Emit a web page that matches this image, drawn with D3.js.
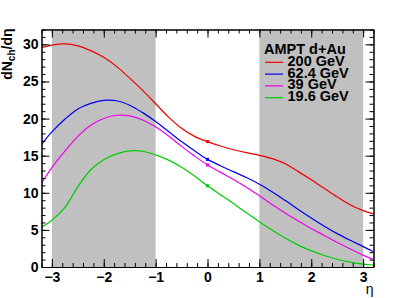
<!DOCTYPE html>
<html>
<head>
<meta charset="utf-8">
<script src="https://cdn.jsdelivr.net/npm/d3@7"></script>
<style>
  body { margin: 0; background: #fff; }
  text { font-family: "Liberation Sans", Arial, sans-serif; }
</style>
</head>
<body>
<div id="chart"></div>
<script>
// eta grid and dN/deta for each energy
const eta = [-3.2, -3, -2.75, -2.5, -2.25, -2, -1.75, -1.5, -1.25, -1, -0.75, -0.5, -0.25, 0,
             0.25, 0.5, 0.75, 1, 1.25, 1.5, 1.75, 2, 2.25, 2.5, 2.75, 3, 3.2];
const v200 = [29.55, 29.9, 30.05, 29.8, 29.15, 28.25, 27.0, 25.45, 23.8, 22.0, 20.2, 18.7, 17.6, 16.9,
              16.3, 15.8, 15.4, 15.05, 14.6, 13.9, 12.85, 11.75, 10.6, 9.45, 8.4, 7.6, 7.15];
const v62 = [16.5, 18.2, 19.9, 21.3, 22.05, 22.45, 22.4, 21.8, 20.8, 19.6, 18.25, 16.9, 15.65, 14.5,
             13.65, 12.85, 12.05, 11.15, 10.1, 8.95, 7.75, 6.6, 5.5, 4.5, 3.6, 2.75, 2.05];
const v39 = [11.3, 13.4, 15.6, 17.6, 19.1, 20.0, 20.45, 20.35, 19.8, 18.9, 17.65, 16.25, 14.95, 13.75,
             12.75, 11.8, 10.75, 9.6, 8.4, 7.25, 6.2, 5.2, 4.25, 3.3, 2.45, 1.6, 1.0];
const v19 = [5.35, 6.3, 8.0, 10.8, 13.1, 14.45, 15.25, 15.65, 15.6, 15.1, 14.4, 13.45, 12.25, 10.95,
             9.75, 8.55, 7.3, 6.1, 4.95, 3.9, 2.95, 2.2, 1.55, 1.05, 0.65, 0.4, 0.27];

const seriesNames = ["200 GeV", "62.4 GeV", "39 GeV", "19.6 GeV"];
const seriesValues = [v200, v62, v39, v19];
const seriesColors = ["#ee0000", "#0000ee", "#ee00ee", "#00cc00"];

const bands = [[-3, -1], [1, 3]];
const xTicks = [-3, -2, -1, 0, 1, 2, 3];
const yTicks = [0, 5, 10, 15, 20, 25, 30];

const W = 415, H = 298;
const margin = {top: 29.5, right: 41.5, bottom: 31, left: 41.5};
const width = W - margin.left - margin.right;
const height = H - margin.top - margin.bottom;

const svg = d3.select("#chart").append("svg")
  .attr("width", W).attr("height", H)
  .append("g")
  .attr("transform", `translate(${margin.left},${margin.top})`);

const x = d3.scaleLinear().domain([-3.2, 3.2]).range([0, width]);
const y = d3.scaleLinear().domain([0, 32]).range([height, 0]);

// shaded eta regions
svg.selectAll("rect.band")
  .data(bands)
  .enter().append("rect")
  .attr("class", "band")
  .attr("x", d => x(d[0]))
  .attr("width", d => x(d[1]) - x(d[0]))
  .attr("y", 0)
  .attr("height", height)
  .attr("fill", "#c0c0c0");

svg.append("clipPath").attr("id", "clip")
  .append("rect").attr("width", width).attr("height", height);

const line = d3.line()
  .x(d => x(d[0]))
  .y(d => y(d[1]))
  .curve(d3.curveCatmullRom.alpha(0.5));

seriesValues.forEach((vals, i) => {
  const pts = eta.map((e, j) => [e, vals[j]]);
  svg.append("path")
    .datum(pts)
    .attr("clip-path", "url(#clip)")
    .attr("fill", "none")
    .attr("stroke", seriesColors[i])
    .attr("stroke-width", 1.2)
    .attr("d", line);
  const k = eta.indexOf(0);
  svg.append("rect")
    .attr("x", x(0) - 1.5)
    .attr("y", y(vals[k]) - 1.5)
    .attr("width", 3).attr("height", 3)
    .attr("fill", seriesColors[i]);
});

// axes, ROOT style ticks pointing inward
const minorX = d3.range(-32, 33, 2).map(d => d / 10);
const minorY = d3.range(0, 33, 1);

function styleAxis(g) {
  g.selectAll("path.domain").attr("stroke", "#000").attr("stroke-width", 1);
  g.selectAll("line").attr("stroke", "#000");
  g.selectAll("text")
    .attr("fill", "#000")
    .style("font-size", "14px")
    .style("font-weight", "bold")
    .style("font-family", "'Liberation Sans', Arial, sans-serif");
}

svg.append("g")
  .attr("transform", `translate(0,${height})`)
  .call(d3.axisBottom(x).tickValues(minorX).tickSize(-4).tickSizeOuter(0).tickFormat(""))
  .call(styleAxis);
svg.append("g")
  .attr("transform", `translate(0,${height})`)
  .call(d3.axisBottom(x).tickValues(xTicks).tickSize(-8).tickSizeOuter(0).tickPadding(5)
    .tickFormat(d => d < 0 ? "\u2212" + Math.abs(d) : d))
  .call(styleAxis);

svg.append("g")
  .call(d3.axisTop(x).tickValues(minorX).tickSize(-4).tickSizeOuter(0).tickFormat(""))
  .call(styleAxis);
svg.append("g")
  .call(d3.axisTop(x).tickValues(xTicks).tickSize(-8).tickSizeOuter(0).tickFormat(""))
  .call(styleAxis);

svg.append("g")
  .call(d3.axisLeft(y).tickValues(minorY).tickSize(-4).tickSizeOuter(0).tickFormat(""))
  .call(styleAxis);
svg.append("g")
  .call(d3.axisLeft(y).tickValues(yTicks).tickSize(-8).tickSizeOuter(0).tickPadding(3))
  .call(styleAxis);

svg.append("g")
  .attr("transform", `translate(${width},0)`)
  .call(d3.axisRight(y).tickValues(minorY).tickSize(-4).tickSizeOuter(0).tickFormat(""))
  .call(styleAxis);
svg.append("g")
  .attr("transform", `translate(${width},0)`)
  .call(d3.axisRight(y).tickValues(yTicks).tickSize(-8).tickSizeOuter(0).tickFormat(""))
  .call(styleAxis);

// axis titles
const yTitle = svg.append("text")
  .attr("transform", `translate(${12 - margin.left},${-1}) rotate(-90)`)
  .attr("text-anchor", "end")
  .style("font-size", "14px")
  .style("font-weight", "bold");
yTitle.append("tspan").text("dN");
yTitle.append("tspan").attr("dy", 3).style("font-size", "10px").text("ch");
yTitle.append("tspan").attr("dy", -3).text("/d\u03b7");

svg.append("text")
  .attr("x", width)
  .attr("y", height + 27)
  .attr("text-anchor", "end")
  .style("font-size", "14px")
  .text("\u03b7");

// legend
const leg = svg.append("g").attr("transform", `translate(${265 - margin.left},${53.5 - margin.top})`);
leg.append("text")
  .attr("x", -1).attr("y", 0)
  .style("font-size", "14.5px").style("font-weight", "bold")
  .text("AMPT d+Au");
seriesNames.forEach((name, i) => {
  const yy = 8.8 + i * 11.8;
  leg.append("line")
    .attr("x1", 0).attr("x2", 18)
    .attr("y1", yy).attr("y2", yy)
    .attr("stroke", seriesColors[i]).attr("stroke-width", 1.2);
  leg.append("text")
    .attr("x", 22.5).attr("y", yy + 3.5)
    .style("font-size", "14.5px").style("font-weight", "bold")
    .text(name);
});
</script>
</body>
</html>
